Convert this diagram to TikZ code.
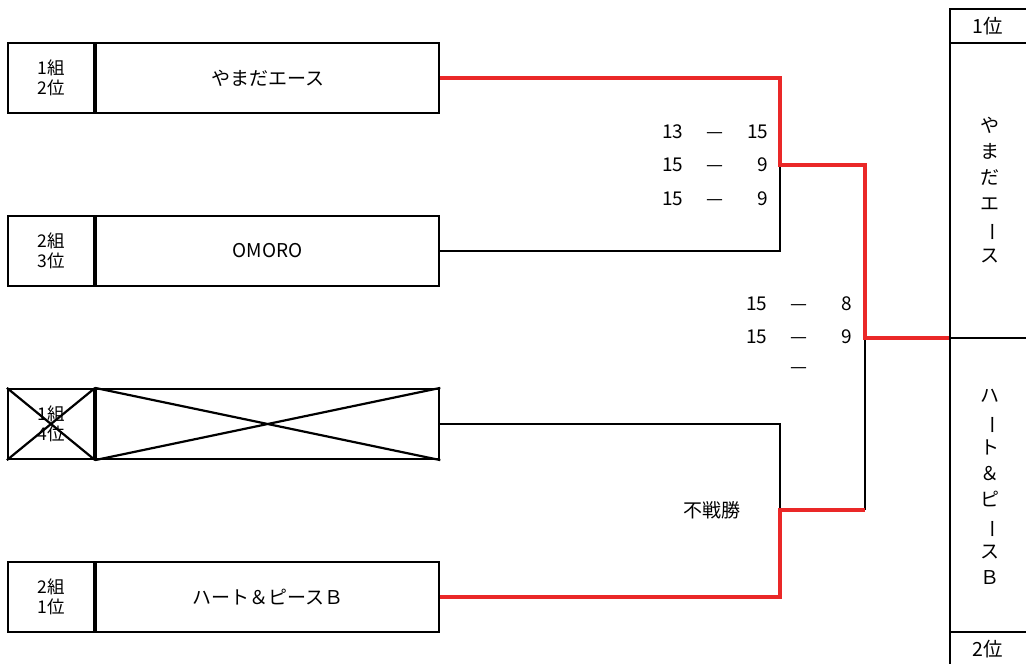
\documentclass[tikz,border=0pt]{standalone}
\usepackage{fontspec}
\setmainfont{Noto Sans CJK JP}
\usetikzlibrary{positioning}
\definecolor{winred}{RGB}{234,40,40}
\newcommand{\scoreln}[2]{\makebox[36pt][l]{#1}\makebox[34pt]{—}\makebox[36pt][r]{#2}}
\newcommand{\tatebar}{\rotatebox[origin=c]{-90}{ー}}

\begin{document}
\begin{tikzpicture}[x=1pt, y=-1pt, node distance=0pt,
  seed/.style={draw, line width=2.2pt, minimum width=86pt, minimum height=70pt, inner sep=0pt, align=center, font=\fontsize{17.5}{20}\selectfont},
  team/.style={draw, line width=2.2pt, minimum width=343pt, minimum height=70pt, inner sep=0pt, font=\fontsize{19}{22}\selectfont},
  lose/.style={line width=2.2pt},
  win/.style={line width=4pt, winred},
  score/.style={inner sep=0pt, anchor=west, font=\fontsize{19}{22}\selectfont},
  rank/.style={inner sep=0pt, font=\fontsize{19.5}{21}\selectfont},
  tate/.style={inner sep=0pt, align=center, font=\fontsize{19}{26}\selectfont}]
	\useasboundingbox (0,0) rectangle (1026,664);

	% teams
	\node[seed] (s1) at (51,78) {1組\\2位};
	\node[team, right=0pt of s1] (t1) {やまだエース};
	\node[seed] (s2) at (51,251) {2組\\3位};
	\node[team, right=0pt of s2] (t2) {OMORO};
	\node[seed] (s3) at (51,424) {1組\\4位};
	\node[team, right=0pt of s3] (t3) {};
	\node[seed] (s4) at (51,597) {2組\\1位};
	\node[team, right=0pt of s4] (t4) {ハート＆ピースＢ};
	\draw[lose] (s3.north west) -- (s3.south east) (s3.south west) -- (s3.north east);
	\draw[lose] (t3.north west) -- (t3.south east) (t3.south west) -- (t3.north east);

	% bracket
	\coordinate (m1) at (780,165);
	\coordinate (m2) at (780,510);
	\coordinate (f) at (865,338);
	\coordinate (fin) at (950,338);

	\draw[lose] (t2.east) -| (m1);
	\draw[lose] (t3.east) -| (m2);
	\draw[lose] (m2 -| f) -- (f);
	\draw[win] (t1.east) -| (m1) -| (f) -- (fin);
	\draw[win] (t4.east) -| (m2) -- (m2 -| f);

	% scores
	\node[score] (sc1) at (662,132) {\scoreln{13}{15}};
	\node[score] (sc2) at (662,165) {\scoreln{15}{9}};
	\node[score] (sc3) at (662,199) {\scoreln{15}{9}};
	\node[score] (sc4) at (746,304) {\scoreln{15}{8}};
	\node[score] (sc5) at (746,337) {\scoreln{15}{9}};
	\node[score] (sc6) at (746,371) {\scoreln{}{}};
	\node[score, anchor=center] (bye) at (712,510) {不戦勝};

	% ranking
	\draw[lose] (950,664) -- (950,9) -- (1026,9);
	\draw[lose] (950,43) -- (1026,43);
	\draw[lose] (fin) -- (1026,338);
	\draw[lose] (950,632) -- (1026,632);
	\node[rank] (first) at (988,26) {1位};
	\node[rank] (second) at (988,649) {2位};
	\node[tate] (champ) at (990,190) {や\\ま\\だ\\エ\\\tatebar\\ス};
	\node[tate] (runner) at (990,487) {ハ\\\tatebar\\ト\\＆\\ピ\\\tatebar\\ス\\Ｂ};
\end{tikzpicture}
\end{document}
